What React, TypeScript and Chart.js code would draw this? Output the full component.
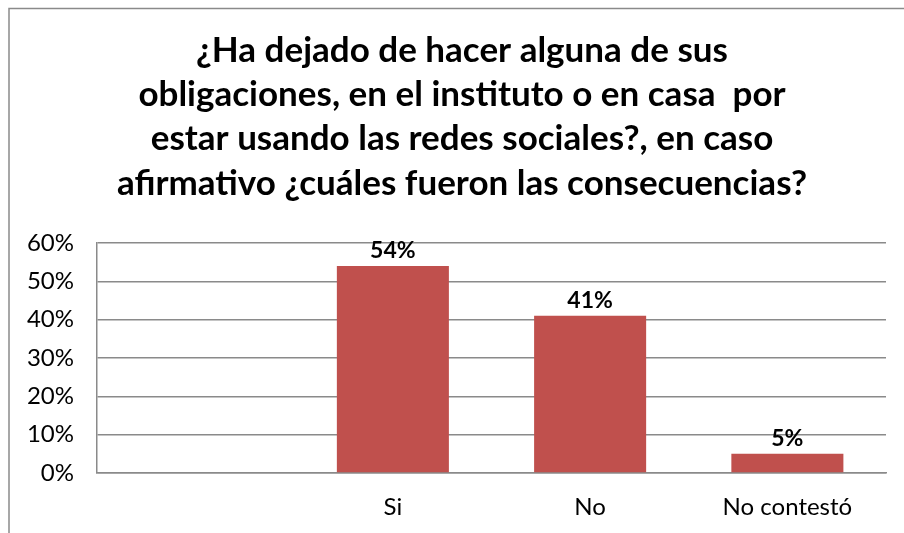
import React, { useEffect, useRef } from "react";
import { Chart, registerables } from "chart.js";

Chart.register(...registerables);

const titleLines = [
  "¿Ha dejado de hacer alguna de sus",
  "obligaciones, en el instituto o en casa  por",
  "estar usando las redes sociales?, en caso",
  "afirmativo ¿cuáles fueron las consecuencias?",
];
const categories = ["", "Si", "No", "No contestó"];
const values = [null, 54, 41, 5];
const yTicks = [0, 10, 20, 30, 40, 50, 60];

const FONT = "Lato, 'Open Sans', sans-serif";
const GRID = "#8a8a8a";
const BAR = "#C0504D";

const framePlugin = {
  id: "frame",
  beforeDraw(chart: any) {
    const ctx = chart.ctx;
    ctx.save();
    ctx.fillStyle = "#ffffff";
    ctx.fillRect(0, 0, chart.width, chart.height);
    ctx.strokeStyle = GRID;
    ctx.lineWidth = 1.5;
    ctx.beginPath();
    ctx.moveTo(9, chart.height + 5);
    ctx.lineTo(9, 8.5);
    ctx.lineTo(chart.width + 5, 8.5);
    ctx.stroke();
    // title, centred on the chart frame
    ctx.font = `bold 35px ${FONT}`;
    ctx.fillStyle = "#000000";
    ctx.textAlign = "center";
    ctx.textBaseline = "alphabetic";
    titleLines.forEach((line, i) => {
      ctx.fillText(line, 462, 62 + i * 44.2);
    });
    ctx.restore();
  },
};

const labelPlugin = {
  id: "barLabels",
  afterDatasetsDraw(chart: any) {
    const ctx = chart.ctx;
    const meta = chart.getDatasetMeta(0);
    ctx.save();
    ctx.font = `bold 23px ${FONT}`;
    ctx.fillStyle = "#000000";
    ctx.textAlign = "center";
    ctx.textBaseline = "alphabetic";
    meta.data.forEach((bar: any, i: number) => {
      const v = values[i];
      if (v === null || v === undefined) return;
      ctx.fillText(`${v}%`, bar.x, bar.y - 8);
    });
    ctx.restore();
  },
};

export default function App() {
  const ref = useRef<HTMLCanvasElement>(null);
  useEffect(() => {
    document.body.style.margin = "0";
    const chart = new Chart(ref.current as HTMLCanvasElement, {
      type: "bar",
      data: {
        labels: categories,
        datasets: [
          {
            data: values as any,
            backgroundColor: BAR,
            borderWidth: 0,
            categoryPercentage: 1,
            barPercentage: 0.568,
          },
        ],
      },
      options: {
        responsive: false,
        animation: false,
        devicePixelRatio: 1,
        layout: { padding: { left: 18, right: 18, top: 243, bottom: 0 } },
        plugins: {
          legend: { display: false },
          tooltip: { enabled: false },
          title: { display: false },
        },
        scales: {
          x: {
            grid: { display: false, drawTicks: false },
            border: { color: GRID, width: 1.5 },
            ticks: {
              color: "#000000",
              font: { family: FONT, size: 24 },
              padding: 20,
              maxRotation: 0,
            },
            afterFit(scale: any) {
              scale.height = 60;
            },
          },
          y: {
            min: 0,
            max: 60,
            afterBuildTicks(scale: any) {
              scale.ticks = yTicks.map((v) => ({ value: v }));
            },
            grid: { color: GRID, lineWidth: 1.5, drawTicks: false },
            border: { color: GRID, width: 1.5 },
            ticks: {
              color: "#000000",
              font: { family: FONT, size: 24 },
              padding: 23,
              callback: (v: any) => `${v}%`,
            },
            afterFit(scale: any) {
              scale.width = 79;
            },
          },
        },
      },
      plugins: [framePlugin, labelPlugin],
    });
    return () => chart.destroy();
  }, []);
  return (
    <div style={{ position: "absolute", left: 0, top: 0, width: 904, height: 533 }}>
      <canvas ref={ref} width={904} height={533} />
    </div>
  );
}
